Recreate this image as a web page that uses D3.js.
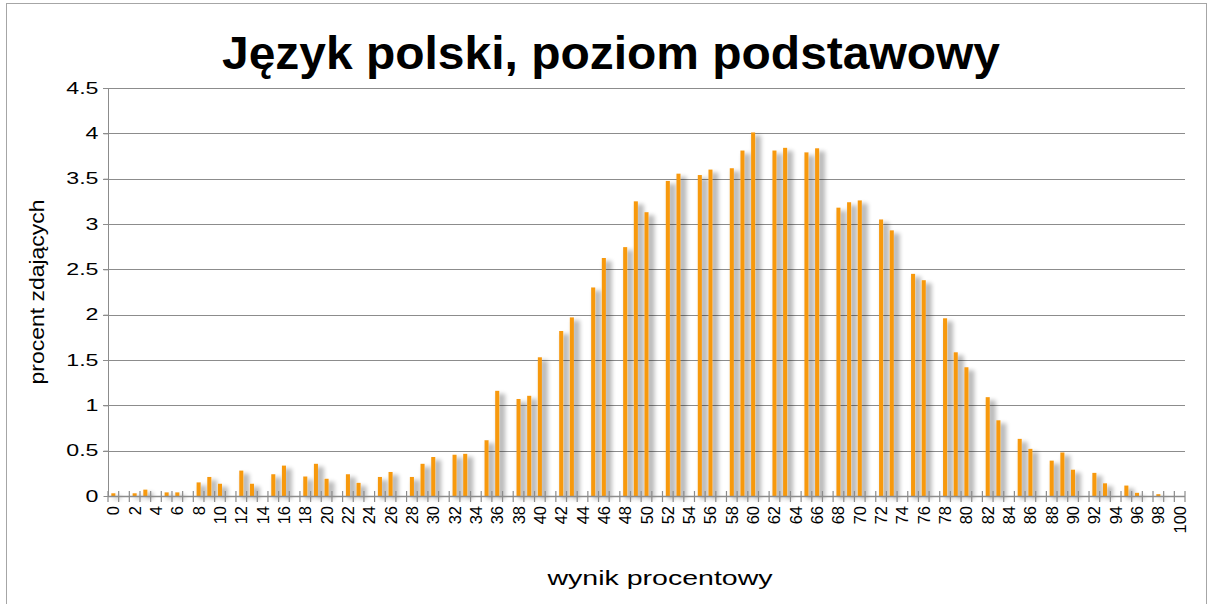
<!DOCTYPE html>
<html>
<head>
<meta charset="utf-8">
<script src="https://cdn.jsdelivr.net/npm/d3@7"></script>
<style>
  body { margin: 0; background: #fff; }
  svg { display: block; font-family: "Liberation Sans", Arial, sans-serif; }
</style>
</head>
<body>
<div id="chart"><svg width="1212" height="604"></svg></div>
<script>
const title = "Język polski, poziom podstawowy";
const xTitle = "wynik procentowy";
const yTitle = "procent zdających";

// wynik 0..100 (%), brak wartości = 0
const scores = d3.range(0, 101);
const values = [
  0.03, 0, 0.03, 0.07, 0, 0.04, 0.04, 0, 0.15, 0.21,
  0.135, 0, 0.28, 0.135, 0, 0.24, 0.335, 0, 0.215, 0.355,
  0.19, 0, 0.24, 0.145, 0, 0.21, 0.265, 0, 0.21, 0.355,
  0.43, 0, 0.455, 0.465, 0, 0.615, 1.16, 0, 1.07, 1.105,
  1.53, 0, 1.82, 1.97, 0, 2.3, 2.625, 0, 2.745, 3.25,
  3.13, 0, 3.475, 3.555, 0, 3.54, 3.6, 0, 3.615, 3.81,
  4.01, 0, 3.81, 3.84, 0, 3.79, 3.835, 0, 3.18, 3.24,
  3.26, 0, 3.05, 2.93, 0, 2.45, 2.38, 0, 1.96, 1.585,
  1.42, 0, 1.09, 0.835, 0, 0.63, 0.52, 0, 0.39, 0.48,
  0.29, 0, 0.255, 0.14, 0, 0.115, 0.035, 0, 0.02, 0,
  0
];
const yTicks = [0, 0.5, 1, 1.5, 2, 2.5, 3, 3.5, 4, 4.5];

const svg = d3.select("#chart svg");
const width = +svg.attr("width");
const height = +svg.attr("height");
const margin = { left: 108, right: 27, top: 88, bottom: 108 };

const data = scores.map((s, i) => ({ s, v: values[i] }));

// ramka wykresu
svg.append("rect")
  .attr("x", 6.5).attr("y", 3.5)
  .attr("width", 1200).attr("height", 640)
  .attr("fill", "none").attr("stroke", "#a6a6a6");

const x = d3.scaleBand()
  .domain(scores)
  .range([margin.left, width - margin.right])
  .paddingInner(0.62)
  .paddingOuter(0.31);

const y = d3.scaleLinear()
  .domain([0, 4.5])
  .range([height - margin.bottom, margin.top]);

const defs = svg.append("defs");
const f = defs.append("filter")
  .attr("id", "shadow")
  .attr("filterUnits", "userSpaceOnUse")
  .attr("x", 0).attr("y", 0).attr("width", width).attr("height", height);
f.append("feMorphology").attr("in", "SourceAlpha").attr("operator", "dilate").attr("radius", "2 0").attr("result", "d");
f.append("feGaussianBlur").attr("in", "d").attr("stdDeviation", 2.2).attr("result", "b");
f.append("feOffset").attr("in", "b").attr("dx", 4).attr("dy", 3).attr("result", "o");
f.append("feComponentTransfer").attr("in", "o").attr("result", "s")
  .append("feFuncA").attr("type", "linear").attr("slope", 0.27);
const fm = f.append("feMerge");
fm.append("feMergeNode").attr("in", "s");
fm.append("feMergeNode").attr("in", "SourceGraphic");

// linie siatki
svg.append("g")
  .selectAll("line")
  .data(yTicks.filter((d) => d > 0))
  .enter()
  .append("line")
  .attr("x1", margin.left - 5)
  .attr("x2", width - margin.right)
  .attr("y1", (d) => Math.round(y(d)) + 0.5)
  .attr("y2", (d) => Math.round(y(d)) + 0.5)
  .attr("stroke", "#8c8c8c");

// słupki
svg.append("g")
  .attr("filter", "url(#shadow)")
  .selectAll("rect")
  .data(data.filter((d) => d.v > 0))
  .enter()
  .append("rect")
  .attr("x", (d) => x(d.s))
  .attr("y", (d) => y(d.v))
  .attr("width", x.bandwidth())
  .attr("height", (d) => y(0) - y(d.v))
  .attr("fill", "#f7990f");

// oś Y
const yAxis = svg.append("g")
  .attr("transform", `translate(${margin.left + 0.5},0)`)
  .call(d3.axisLeft(y).tickValues(yTicks).tickSize(5).tickFormat(d3.format("")));
yAxis.select(".domain").attr("stroke", "#8c8c8c").attr("d", `M0,${y(4.5)}V${y(0)}`);
yAxis.selectAll(".tick line").attr("stroke", "#8c8c8c");
yAxis.selectAll(".tick text")
  .attr("font-size", 16).attr("fill", "#000")
  .attr("font-family", "Liberation Sans, Arial, sans-serif")
  .attr("x", null)
  .attr("transform", "translate(-10,0) scale(1.45,1)");

// oś X
const step = x.step();
const x0 = margin.left;
const gx = svg.append("g");
gx.append("line")
  .attr("x1", x0).attr("x2", width - margin.right)
  .attr("y1", Math.round(y(0)) + 0.5).attr("y2", Math.round(y(0)) + 0.5)
  .attr("stroke", "#8c8c8c").attr("stroke-width", 1.5);
gx.selectAll("line.tk")
  .data(d3.range(0, scores.length + 1))
  .enter()
  .append("line")
  .attr("class", "tk")
  .attr("x1", (k) => x0 + k * step)
  .attr("x2", (k) => x0 + k * step)
  .attr("y1", y(0) - 5)
  .attr("y2", y(0) + 6)
  .attr("stroke", "#8c8c8c")
  .attr("stroke-width", 1.2);

gx.selectAll("text")
  .data(scores.filter((s) => s % 2 === 0))
  .enter()
  .append("text")
  .attr("transform", (s) => `translate(${x(s) + x.bandwidth() / 2 + 6},${y(0) + 10}) rotate(-90)`)
  .attr("text-anchor", "end")
  .attr("font-size", 16.5)
  .text((s) => s);

// tytuły
svg.append("text")
  .attr("x", 611).attr("y", 69)
  .attr("text-anchor", "middle")
  .attr("font-size", 47)
  .attr("font-weight", "bold")
  .attr("textLength", 778)
  .attr("lengthAdjust", "spacingAndGlyphs")
  .text(title);

svg.append("text")
  .attr("x", 660).attr("y", 585)
  .attr("text-anchor", "middle")
  .attr("font-size", 20)
  .attr("textLength", 225)
  .attr("lengthAdjust", "spacingAndGlyphs")
  .text(xTitle);

svg.append("text")
  .attr("transform", `translate(44,292) rotate(-90)`)
  .attr("text-anchor", "middle")
  .attr("font-size", 21)
  .attr("textLength", 185)
  .attr("lengthAdjust", "spacingAndGlyphs")
  .text(yTitle);
</script>
</body>
</html>
